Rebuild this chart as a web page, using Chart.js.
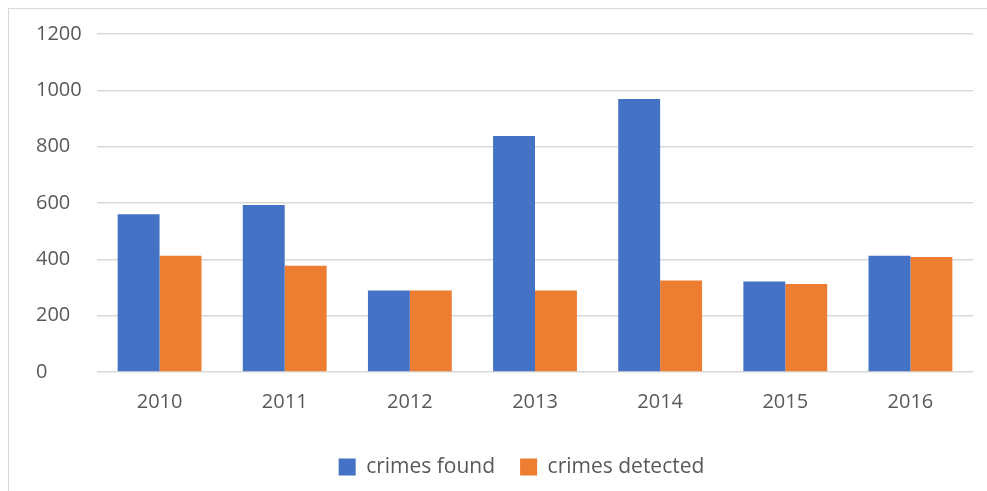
<!DOCTYPE html>
<html>
<head>
<meta charset="utf-8">
<script src="https://cdn.jsdelivr.net/npm/chart.js@4/dist/chart.umd.min.js"></script>
<style>
html,body{margin:0;padding:0;background:#fff;overflow:hidden;}
#wrap{position:relative;width:987px;height:491px;}
#frame{position:absolute;left:8px;top:8px;width:1200px;height:1200px;border-left:1px solid #d9d9d9;border-top:1px solid #d9d9d9;pointer-events:none;}
canvas{position:absolute;left:0;top:0;}
</style>
</head>
<body>
<div id="wrap">
<canvas id="c" width="987" height="491"></canvas>
<div id="frame"></div>
</div>
<script>
const categories = ['2010','2011','2012','2013','2014','2015','2016'];
const crimesFound = [560, 593, 289, 838, 969, 321, 413];
const crimesDetected = [413, 377, 289, 289, 325, 312, 408];
const yTicks = [0, 200, 400, 600, 800, 1000, 1200];

const FONT = "'Open Sans', sans-serif";
Chart.defaults.font.family = FONT;
Chart.defaults.font.size = 20;
Chart.defaults.color = '#595959';

const legendShift = {
  id: 'legendShift',
  afterLayout(chart) {
    const lg = chart.legend;
    if (!lg) return;
    const dx = 17, dy = -3.5;
    lg.left += dx; lg.right += dx;
    lg.top += dy; lg.bottom += dy;
  }
};

new Chart(document.getElementById('c'), {
  type: 'bar',
  data: {
    labels: categories,
    datasets: [
      {label: 'crimes found', data: crimesFound, backgroundColor: '#4472C4', categoryPercentage: 0.67, barPercentage: 1.0},
      {label: 'crimes detected', data: crimesDetected, backgroundColor: '#ED7D31', categoryPercentage: 0.67, barPercentage: 1.0}
    ]
  },
  plugins: [legendShift],
  options: {
    responsive: false,
    animation: false,
    devicePixelRatio: 1,
    layout: {padding: {left: 36, right: 14, top: 34, bottom: 0}},
    plugins: {
      legend: {
        position: 'bottom',
        labels: {boxWidth: 17, boxHeight: 17, padding: 25, font: {size: 21}, color: '#595959'}
      },
      tooltip: {enabled: false}
    },
    scales: {
      x: {
        grid: {display: false},
        border: {display: false},
        ticks: {padding: 10, font: {size: 20}, color: '#595959'},
        afterFit: (s) => { s.height = 63; }
      },
      y: {
        min: 0, max: 1200,
        afterBuildTicks: (s) => { s.ticks = yTicks.map(v => ({value: v})); },
        grid: {color: '#d9d9d9', lineWidth: 1.5, drawTicks: false},
        border: {display: false},
        ticks: {crossAlign: 'far', padding: 15, font: {size: 20}, color: '#595959', callback: (v) => String(v)},
        afterFit: (s) => { s.width = 61; }
      }
    }
  }
});
</script>
</body>
</html>
